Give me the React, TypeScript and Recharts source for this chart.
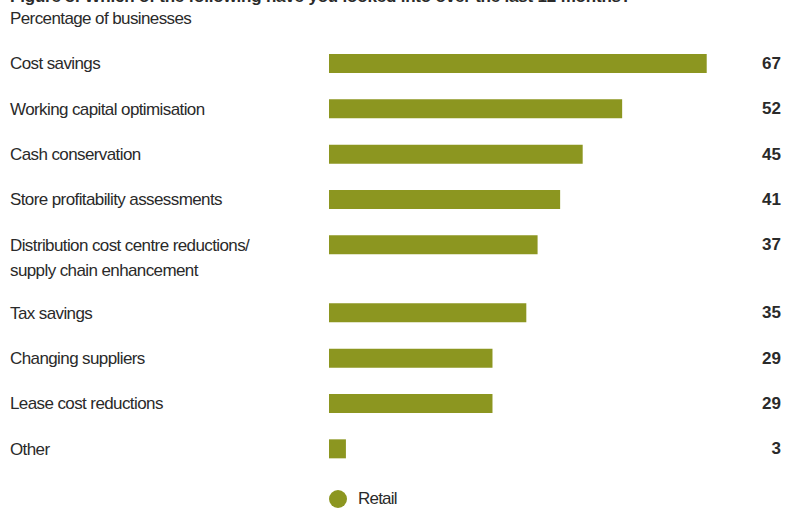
import React from 'react';
import { BarChart, Bar, XAxis, YAxis, Legend } from 'recharts';

const title = 'Figure 8: Which of the following have you looked into over the last 12 months?';
const subtitle = 'Percentage of businesses';
const seriesName = 'Retail';
const categories = [
  'Cost savings',
  'Working capital optimisation',
  'Cash conservation',
  'Store profitability assessments',
  'Distribution cost centre reductions/\nsupply chain enhancement',
  'Tax savings',
  'Changing suppliers',
  'Lease cost reductions',
  'Other',
];
const retailValues = [67, 52, 45, 41, 37, 35, 29, 29, 3];
const xDomain = [0, 80];

const COLOR = '#8c9620';
const TEXT = '#2a2a2a';
const FONT = "'Liberation Sans', Arial, sans-serif";
const LS = -0.6;

type Row = { key: string; label: string | null; value: number | null };
const rows: Row[] = [];
categories.forEach((c, i) => {
  rows.push({ key: `r${i}`, label: c, value: retailValues[i] });
  if (i < categories.length - 1) {
    const lines = c.split('\n').length;
    for (let j = 0; j < lines; j++) rows.push({ key: `s${i}_${j}`, label: null, value: null });
  }
});
const byKey: Record<string, Row> = {};
rows.forEach((r) => (byKey[r.key] = r));

const LeftTick = (props: any) => {
  const { y, payload } = props;
  const r = byKey[payload.value];
  if (!r || !r.label) return null;
  const lines = r.label.split('\n');
  return (
    <text x={10} y={y} fill={TEXT} fontSize={17} fontFamily={FONT} letterSpacing={LS} dominantBaseline="central">
      {lines.map((l, i) => (
        <tspan key={i} x={10} dy={i === 0 ? 0 : 25}>
          {l}
        </tspan>
      ))}
    </text>
  );
};

const RightTick = (props: any) => {
  const { y, payload } = props;
  const r = byKey[payload.value];
  if (!r || r.value == null) return null;
  return (
    <text x={781} y={y} fill={TEXT} fontSize={17} fontWeight="bold" fontFamily={FONT} textAnchor="end" dominantBaseline="central">
      {r.value}
    </text>
  );
};

const LegendContent = () => (
  <div style={{ display: 'flex', alignItems: 'center', paddingLeft: 329, paddingTop: 29, fontFamily: FONT, fontSize: 17, letterSpacing: -0.8, color: TEXT }}>
    <span style={{ width: 18, height: 18, borderRadius: 9, background: COLOR, display: 'inline-block', marginRight: 11 }} />
    <span>{seriesName}</span>
  </div>
);

export default function App() {
  return (
    <div style={{ position: 'fixed', left: 0, top: 0, width: 797, height: 509, overflow: 'hidden', background: '#fff' }}>
      <div style={{ position: 'absolute', left: 10, top: -13, fontFamily: FONT, fontWeight: 'bold', fontSize: 17, letterSpacing: -0.2, color: TEXT, whiteSpace: 'nowrap' }}>{title}</div>
      <div style={{ position: 'absolute', left: 10, top: 9, fontFamily: FONT, fontSize: 17, letterSpacing: LS, color: TEXT, whiteSpace: 'nowrap' }}>{subtitle}</div>
      <div style={{ position: 'absolute', left: 0, top: 0 }}>
        <BarChart width={797} height={509} data={rows} layout="vertical" margin={{ top: 52, right: 0, left: 0, bottom: 0 }} barSize={19}>
          <XAxis type="number" domain={xDomain} hide />
          <YAxis yAxisId="left" type="category" dataKey="key" width={329} axisLine={false} tickLine={false} tick={<LeftTick />} interval={0} />
          <YAxis yAxisId="right" orientation="right" type="category" dataKey="key" width={17} axisLine={false} tickLine={false} tick={<RightTick />} interval={0} />
          <Legend verticalAlign="bottom" height={49} content={<LegendContent />} />
          <Bar yAxisId="left" dataKey="value" name={seriesName} fill={COLOR} isAnimationActive={false} />
        </BarChart>
      </div>
    </div>
  );
}
